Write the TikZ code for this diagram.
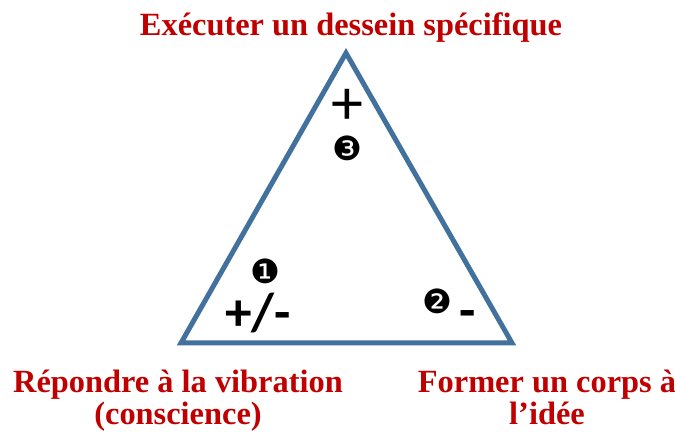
\documentclass[tikz,border=0pt]{standalone}
\usepackage{fontspec}
\setmainfont{Liberation Serif}
\newfontfamily\digitfont{DejaVu Sans}
\newfontfamily\signfont{Carlito}
\usetikzlibrary{positioning}
\definecolor{triblue}{HTML}{41719C}
\definecolor{titlered}{HTML}{C00000}

\begin{document}
\begin{tikzpicture}[x=0.75pt,y=-0.75pt,
  lbl/.style={text=titlered,font=\bfseries\fontsize{24.3}{24}\selectfont,align=center,inner sep=0pt},
  num/.style={font=\digitfont\fontsize{25}{25}\selectfont,inner sep=0pt,text height=0.72em,text depth=0.02em},
  sign/.style={font=\signfont\bfseries\fontsize{40}{40}\selectfont,inner sep=0pt}]
\useasboundingbox (0,0) rectangle (675,434);
% triangle
\draw[triblue,line width=3.75pt] (346,53) -- (512,343) -- (181,343) -- cycle;
% labels at the corners
\node[lbl,anchor=base] (top) at (351,36) {Exécuter un dessein spécifique};
\node[lbl,anchor=base] (left) at (178,425) {Répondre à la vibration\\(conscience)};
\node[lbl,anchor=base] (right) at (547,425) {Former un corps à\\l’idée};
% signs and numbers
\node[sign,font=\signfont\fontsize{48}{48}\selectfont,text height=0.5em,text depth=0pt] (plustop) at (347,121) {+};
\node[num] (three) at (347,156) {❸};
\node[num] (one) at (265,279) {❶};
\node[sign] (plusminus) at (258,313) {+/-};
\node[num] (two) at (437,309) {❷};
\node[sign] (minus) at (468,320) {-};
\end{tikzpicture}
\end{document}
